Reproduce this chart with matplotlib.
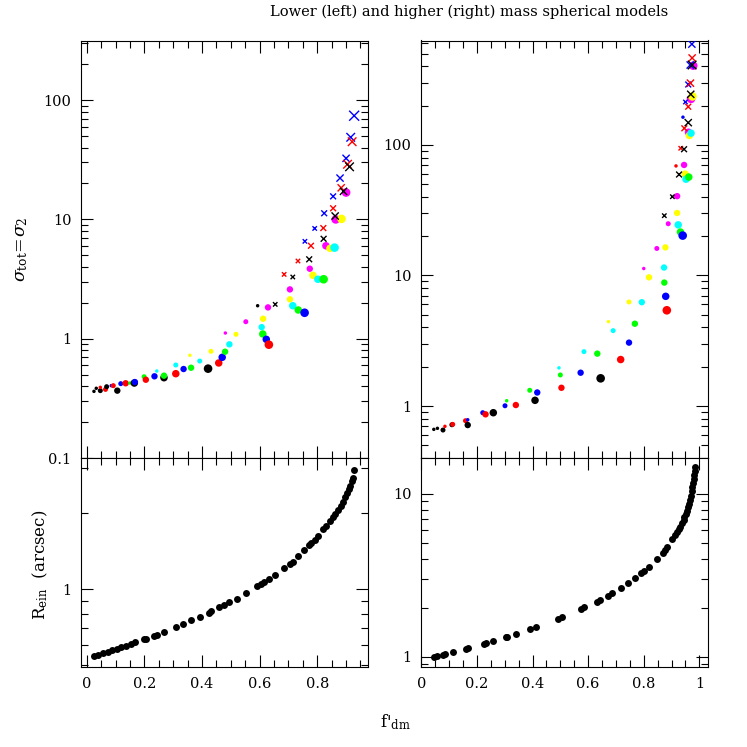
import matplotlib
matplotlib.use("Agg")
import matplotlib.pyplot as plt
import numpy as np
from matplotlib.ticker import MultipleLocator, LogLocator, FuncFormatter, NullFormatter

plt.rcParams['font.family'] = ['DejaVu Serif']
plt.rcParams['mathtext.fontset'] = 'dejavuserif'

# ---- data ----
# top left: filled dots (x, y, colour, size class)
tl_dot_x = [.025, .033, .047, .047, .065, .069, .085, .092, .106, .118, .135, .150, .165, .167,
            .199, .205, .235, .243, .268, .268, .309, .309, .336, .362, .358, .392, .421, .431,
            .458, .470, .480, .481, .495, .518, .552, .593, .612, .629, .607, .611, .623, .632,
            .705, .705, .715, .734, .756, .774, .785, .802, .822, .830, .844, .860, .864, .884, .900]
tl_dot_y = [.362, .384, .367, .391, .376, .396, .404, .404, .367, .420, .423, .425, .425, .433,
            .480, .453, .484, .536, .471, .490, .509, .602, .557, .571, .726, .650, .561, .784,
            .626, .698, .778, 1.116, .897, 1.089, 1.388, 1.89, 1.47, 1.83, 1.25, 1.095, .988, .891,
            2.59, 2.14, 1.89, 1.74, 1.65, 3.86, 3.40, 3.15, 3.15, 6.01, 5.72, 5.80, 10.0, 10.1, 16.8]
tl_dot_c = "kkkrrkbrkbrgkbgrbckgrcbgyckyrbgmcymkymcgbrmycgbmycgmycmym"
tl_dot_s = [1, 1, 2, 1, 2, 2, 1, 2, 3, 2, 3, 1, 4, 3,
            2, 3, 3, 1, 4, 3, 4, 2, 3, 3, 1, 2, 5, 2,
            4, 4, 3, 1, 3, 2, 2, 1, 3, 3, 3, 4, 4, 5,
            3, 3, 4, 4, 5, 3, 4, 4, 5, 4, 4, 5, 5, 5, 5]
# top left: crosses
tl_x_x = [.654, .685, .715, .733, .772, .757, .778, .822, .791, .821, .824, .862,
          .855, .855, .883, .891, .879, .900, .905, .912, .916, .921, .928]
tl_x_y = [1.94, 3.46, 3.29, 4.48, 4.63, 6.55, 6.01, 6.88, 8.4, 8.46, 11.26, 10.68,
          12.4, 15.6, 18.4, 17.2, 22.2, 32.5, 29.0, 27.6, 48.8, 44.8, 74]
tl_x_c = "krkrkbrkbrbkrbrkbbrkbrb"
tl_x_s = [1, 1, 1, 1, 2, 1, 2, 2, 1, 2, 2, 3, 2, 2, 3, 3, 3, 3, 4, 4, 4, 4, 5]

# top right: filled dots
tr_dot_x = [.045, .058, .078, .085, .110, .113, .159, .167, .167, .221, .231, .259, .307, .301,
            .340, .390, .417, .409, .495, .500, .504, .573, .585, .633, .645, .673, .690, .717,
            .747, .768, .747, .793, .800, .819, .873, .874, .879, .883, .847, .878, .888, .920,
            .924, .932, .940, .920, .916, .945, .949, .952, .962, .941, .961, .964, .970, .970,
            .975, .978]
tr_dot_y = [.663, .675, .655, .699, .719, .724, .772, .785, .715, .889, .864, .889, 1.098, 1.005,
            1.018, 1.32, 1.27, 1.106, 1.96, 1.73, 1.38, 1.80, 2.61, 2.52, 1.63, 4.43, 3.78, 2.27,
            3.06, 4.27, 6.27, 6.24, 11.3, 9.68, 11.5, 8.82, 6.92, 5.41, 16.1, 16.4, 24.9, 30.1,
            24.4, 21.5, 20.2, 40.5, 69, 70.2, 59.7, 54.6, 56.7, 163, 125, 118, 123, 225,
            235, 404]
tr_dot_c = "kkkrkrrbkbrkgbrgbkcgrbcgkycrbgycmycgbrmymycgbmrmycgbmycmym"
tr_dot_s = [1, 1, 2, 1, 2, 2, 2, 1, 3, 2, 3, 4, 1, 2,
            3, 2, 3, 4, 1, 2, 3, 3, 2, 3, 5, 1, 2, 4,
            3, 3, 2, 3, 1, 3, 3, 3, 4, 5, 2, 3, 2, 3,
            4, 4, 5, 3, 1, 3, 4, 4, 4, 1, 4, 4, 4, 5,
            5, 5]
# top right: crosses
tr_x_x = [.874, .903, .927, .933, .945, .946, .960, .950, .960, .969, .960, .968, .967, .974, .974, .973]
tr_x_y = [28.7, 40.1, 59.3, 94.2, 92.6, 134, 148, 213, 196, 244, 290, 297, 409, 463, 409, 591]
tr_x_c = "kkkrkrkbrkbrbrkb"
tr_x_s = [1, 1, 2, 1, 2, 2, 3, 1, 2, 3, 2, 3, 3, 3, 4, 3]

# bottom left: Einstein radius
bl_x = [.026, .040, .058, .072, .087, .104, .118, .136, .153, .167, .199, .205, .233, .243,
        .268, .309, .333, .361, .393, .423, .431, .459, .476, .494, .520, .552, .592, .603,
        .616, .632, .654, .684, .705, .716, .732, .755, .772, .778, .792, .801, .820, .829,
        .844, .855, .863, .872, .881, .890, .897, .904, .909, .915, .921, .924, .929]
bl_y = [.544, .550, .559, .565, .573, .580, .588, .596, .606, .615, .632, .637, .654, .660,
        .676, .705, .726, .751, .778, .807, .819, .846, .864, .885, .917, .962, 1.027, 1.046,
        1.068, 1.097, 1.141, 1.215, 1.259, 1.285, 1.347, 1.431, 1.487, 1.524, 1.570, 1.623, 1.727, 1.769,
        1.855, 1.935, 1.988, 2.061, 2.136, 2.219, 2.306, 2.391, 2.477, 2.567, 2.67, 2.75, 2.96]

# bottom right: Einstein radius
br_x = [.045, .056, .078, .086, .114, .160, .167, .225, .232, .258, .303, .309, .339, .390,
        .414, .491, .505, .573, .586, .632, .643, .671, .687, .717, .745, .769, .791, .802,
        .818, .847, .868, .877, .885, .901, .913, .919, .926, .931, .937, .943, .946, .951,
        .955, .959, .962, .966, .969, .972, .975, .978, .980, .982, .985, .986]
br_y = [.992, 1.006, 1.024, 1.034, 1.064, 1.115, 1.126, 1.197, 1.208, 1.243, 1.316, 1.327, 1.385, 1.480,
        1.523, 1.713, 1.746, 1.966, 2.013, 2.179, 2.222, 2.371, 2.463, 2.644, 2.850, 3.03, 3.26, 3.35,
        3.55, 3.99, 4.36, 4.53, 4.70, 5.25, 5.60, 5.82, 6.07, 6.29, 6.61, 6.93, 7.20, 7.54,
        7.90, 8.28, 8.68, 9.19, 9.73, 10.34, 11.0, 11.65, 12.3, 13.1, 13.9, 14.6]

cmap = {'k': 'black', 'r': 'red', 'g': '#00ff00', 'b': 'blue',
        'c': 'cyan', 'm': 'magenta', 'y': 'yellow'}
dot_ms = {1: 2.5, 2: 3.6, 3: 4.6, 4: 5.4, 5: 6.2}
x_ms = {1: 3.2, 2: 4.2, 3: 5.2, 4: 6.2, 5: 7.2}

fig = plt.figure(figsize=(7.47, 7.47), dpi=100)
W = 747.0
def axes_px(x0, x1, y0, y1):
    return fig.add_axes([x0 / W, 1 - y1 / W, (x1 - x0) / W, (y1 - y0) / W])

ax_tl = axes_px(81, 367.7, 40.5, 458)
ax_tr = axes_px(421.3, 707.7, 40.5, 458)
ax_bl = axes_px(81, 367.7, 458, 667.3)
ax_br = axes_px(421.3, 707.7, 458, 667.3)

fmt = FuncFormatter(lambda v, p: f"{round(v, 3):g}")

for ax in (ax_tl, ax_tr, ax_bl, ax_br):
    ax.set_yscale('log')
    ax.xaxis.set_major_locator(MultipleLocator(0.2))
    ax.xaxis.set_minor_locator(MultipleLocator(0.05))
    ax.yaxis.set_major_locator(LogLocator(base=10))
    ax.yaxis.set_minor_locator(LogLocator(base=10, subs=np.arange(2, 10)))
    ax.yaxis.set_major_formatter(fmt)
    ax.yaxis.set_minor_formatter(NullFormatter())
    ax.xaxis.set_major_formatter(fmt)
    ax.tick_params(which='both', direction='in', top=True, right=True, width=0.8, labelsize=10.5, pad=7)
    ax.tick_params(which='major', length=8.5)
    ax.tick_params(which='minor', length=5)
    for sp in ax.spines.values():
        sp.set_linewidth(0.8)

for ax in (ax_tl, ax_tr):
    ax.tick_params(labelbottom=False)

def draw_top(ax, dx, dy, dc, ds, xx, xy, xc, xs):
    ax.scatter(dx, dy, s=[dot_ms[s] ** 2 for s in ds], c=[cmap[c] for c in dc],
               marker='o', linewidths=0, zorder=2)
    ax.scatter(xx, xy, s=[x_ms[s] ** 2 for s in xs], c=[cmap[c] for c in xc],
               marker='x', linewidths=1.0, zorder=3)

draw_top(ax_tl, tl_dot_x, tl_dot_y, tl_dot_c, tl_dot_s, tl_x_x, tl_x_y, tl_x_c, tl_x_s)
draw_top(ax_tr, tr_dot_x, tr_dot_y, tr_dot_c, tr_dot_s, tr_x_x, tr_x_y, tr_x_c, tr_x_s)

ax_bl.plot(bl_x, bl_y, 'o', color='black', ms=5.0, mew=0)
ax_br.plot(br_x, br_y, 'o', color='black', ms=5.0, mew=0)

ax_tl.set_xlim(-0.02, 0.975)
ax_bl.set_xlim(-0.02, 0.975)
ax_tr.set_xlim(0.0, 1.03)
ax_br.set_xlim(0.0, 1.03)
ax_tl.set_ylim(0.1, 316)
ax_tr.set_ylim(0.4, 630)
ax_bl.set_ylim(0.49, 3.3)
ax_br.set_ylim(0.86, 16.6)

fig.text(469 / W, 1 - 12 / W, "Lower (left) and higher (right) mass spherical models",
         ha='center', va='center', fontsize=10.5)
fig.text(22 / W, 1 - 249 / W, r"$\sigma_{\rm tot}\!=\!\sigma_2$", rotation=90,
         ha='center', va='center', fontsize=12.5)
fig.text(40 / W, 1 - 565 / W, r"R$_{\rm ein}$  (arcsec)", rotation=90,
         ha='center', va='center', fontsize=12)
fig.text(395 / W, 1 - 722 / W, r"f'$_{\rm dm}$", ha='center', va='center', fontsize=12)

fig.savefig("out.png", dpi=100)
